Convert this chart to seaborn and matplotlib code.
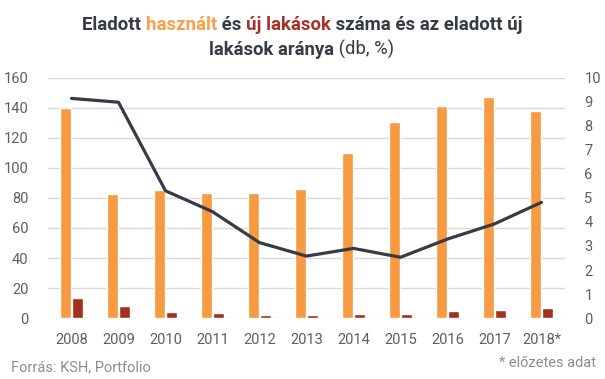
import seaborn as sns
import numpy as np
import pandas as pd
import matplotlib.pyplot as plt

years = ["2008", "2009", "2010", "2011", "2012", "2013", "2014", "2015", "2016", "2017", "2018*"]
used = [140, 82.7, 85.3, 83.3, 83.3, 86, 110, 130.7, 141.3, 147.3, 138]
new = [13.3, 8, 4, 3.3, 2, 2, 2.7, 2.7, 4.7, 5.3, 6.7]
new_share = [9.15, 8.99, 5.3, 4.43, 3.14, 2.58, 2.9, 2.53, 3.29, 3.92, 4.82]

ORANGE = "#f79a42"
RED = "#a3301f"
DARK = "#363b45"
GRAY = "#5b5f66"

sns.set_style("white")
plt.rcParams["font.family"] = ["Roboto", "DejaVu Sans"]

df = pd.DataFrame({"year": years * 2,
                   "value": used + new,
                   "type": ["használt"] * len(years) + ["új"] * len(years)})

fig = plt.figure(figsize=(6.05, 3.79), dpi=100)
ax = fig.add_axes([48 / 605, 1 - 318 / 379, 517 / 605, 240 / 379])

sns.barplot(data=df, x="year", y="value", hue="type", ax=ax, saturation=1,
            palette=[ORANGE, RED], width=0.52, gap=0.12, legend=False, zorder=3)
ax.set_ylim(0, 160)
ax.set_yticks(range(0, 161, 20))
ax.set_xlim(-0.5, len(years) - 0.5)
ax.grid(axis="y", color="#d9d9d9", linewidth=1, zorder=0)
ax.set_axisbelow(True)
ax.set_xlabel("")
ax.set_ylabel("")
sns.despine(ax=ax, left=True, bottom=True, right=True, top=True)
ax.tick_params(axis="both", length=0, labelsize=10.5, colors=GRAY)
ax.tick_params(axis="x", pad=11)
ax.tick_params(axis="y", pad=14)

ax2 = ax.twinx()
sns.lineplot(x=np.arange(len(years)), y=new_share, ax=ax2, color=DARK, linewidth=2.3, zorder=4)
ax2.set_ylim(0, 10)
ax2.set_yticks(range(0, 11))
ax2.set_xlim(-0.5, len(years) - 0.5)
sns.despine(ax=ax2, left=True, bottom=True, right=True, top=True)
ax2.tick_params(axis="y", length=0, labelsize=10.5, colors=GRAY, pad=14)

# title with coloured words, laid out piece by piece
def colored_line(parts, y, left, right):
    r = fig.canvas.get_renderer()
    texts = [fig.text(0, y, s, color=c, fontsize=14, fontweight=w, va="baseline")
             for s, c, w in parts]
    total = sum(t.get_window_extent(r).width for t in texts)
    size = 14 * (right - left) / total
    for t in texts:
        t.set_fontsize(size)
    x = left
    for t in texts:
        t.set_x(x / 605)
        x += t.get_window_extent(r).width

colored_line([("Eladott ", DARK, "bold"), ("használt", "#f9a04d", "bold"),
              (" és ", DARK, "bold"), ("új lakások", "#a6322a", "bold"),
              (" száma és az eladott új", DARK, "bold")], 1 - 30 / 379, 82, 523)
colored_line([("lakások aránya", DARK, "bold"), (" (db, %)", DARK, "normal")],
             1 - 55 / 379, 209, 395)

fig.text(11 / 605, 1 - 371 / 379, "Forrás: KSH, Portfolio", color="#8a8d92", fontsize=10.5)
fig.text(596 / 605, 1 - 367 / 379, "* előzetes adat", color="#8a8d92", fontsize=10.5, ha="right")

fig.savefig("out.png", dpi=100)
